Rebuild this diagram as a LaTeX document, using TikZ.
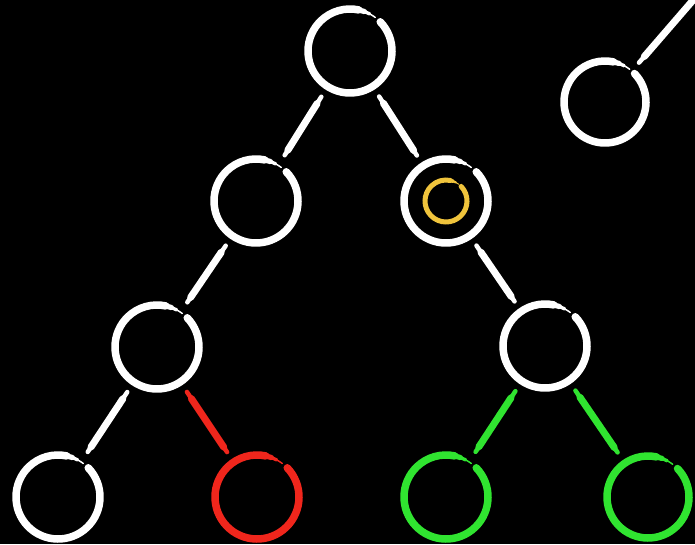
\documentclass[tikz,border=0pt]{standalone}
\usetikzlibrary{calc}
\definecolor{chalkred}{RGB}{240,38,28}
\definecolor{chalkgreen}{RGB}{48,228,48}
\definecolor{chalkyellow}{RGB}{240,196,60}
\tikzset{
  ringstroke/.style={line width=7.5pt, line cap=round},
  edgeouter/.style={line width=4.5pt, line cap=round, shorten <=54pt, shorten >=54pt},
  edgeinner/.style={line width=7pt, line cap=round, shorten <=62pt, shorten >=60pt},
}
\newcommand\chalkring[4]{% center, color, radius, width
  \draw[ringstroke,#2,line width=#4] ($(#1)+(44:#3)$) arc[start angle=44, end angle=-282, radius=#3];
  \draw[line cap=round,#2,line width=0.7*#4] ($(#1)+(78:#3)$) arc[start angle=78, end angle=70, radius=#3];
  \draw[line cap=round,#2,line width=0.45*#4] ($(#1)+(70:#3)$) arc[start angle=70, end angle=62, radius=#3];
  \draw[line cap=round,#2,line width=0.2*#4] ($(#1)+(62:#3)$) arc[start angle=62, end angle=53, radius=#3];
}
\newcommand\brushedge[3]{% color, from, to
  \draw[edgeouter,#1] (#2) -- (#3);
  \draw[edgeinner,#1] (#2) -- (#3);
}
\begin{document}
\begin{tikzpicture}[x=1pt,y=1pt]
\useasboundingbox (0,0) rectangle (695,544);
\fill[black] (0,0) rectangle (695,544);
\clip (0,0) rectangle (695,544);
% node centres
\coordinate (root) at (350,493);
\coordinate (l2) at (256,343);
\coordinate (r2) at (446,343);
\coordinate (l3) at (157,197);
\coordinate (r3) at (545,198);
\coordinate (ll4) at (58,47);
\coordinate (lr4) at (257,47);
\coordinate (rl4) at (446,47);
\coordinate (rr4) at (648,47);
\coordinate (tr) at (605,442);
\coordinate (trP) at (720,575);
% rings
\chalkring{root}{white}{42}{7.5pt}
\chalkring{l2}{white}{42}{7.5pt}
\chalkring{r2}{white}{42}{7.5pt}
\chalkring{l3}{white}{42}{7.5pt}
\chalkring{r3}{white}{42}{7.5pt}
\chalkring{ll4}{white}{42}{7.5pt}
\chalkring{lr4}{chalkred}{42}{7.5pt}
\chalkring{rl4}{chalkgreen}{42}{7.5pt}
\chalkring{rr4}{chalkgreen}{41}{7.5pt}
\chalkring{tr}{white}{41}{7.5pt}
\chalkring{r2}{chalkyellow}{21}{5pt}
% edges
\brushedge{white}{root}{l2}
\brushedge{white}{root}{r2}
\brushedge{white}{l2}{l3}
\brushedge{white}{r2}{r3}
\brushedge{white}{l3}{ll4}
\brushedge{chalkred}{l3}{lr4}
\brushedge{chalkgreen}{r3}{rl4}
\brushedge{chalkgreen}{r3}{rr4}
\draw[line width=4.5pt, line cap=round, white, shorten <=52pt] (tr) -- (trP);
\draw[line width=7pt, line cap=round, white, shorten <=60pt] (tr) -- (trP);
\end{tikzpicture}
\end{document}
